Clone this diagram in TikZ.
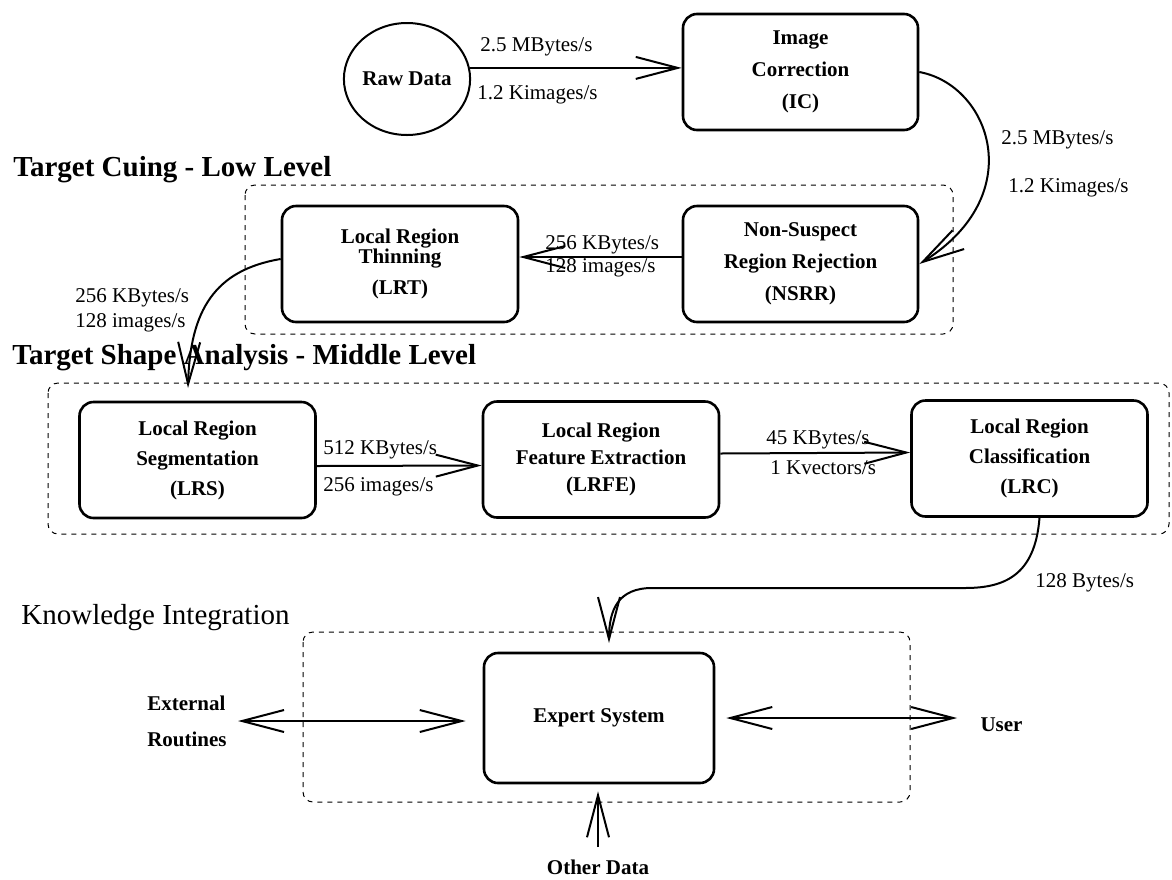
\documentclass[tikz,border=0pt]{standalone}
\usepackage{fontspec}
\setmainfont{Liberation Serif}
\usepackage{tikz}
\usetikzlibrary{arrows.meta, positioning, calc, shapes.geometric}

\begin{document}
\begin{tikzpicture}[x=0.5pt, y=-0.5pt,
  proc/.style={draw, line width=1.3pt, rounded corners=7pt, minimum width=118pt, minimum height=58pt,
    inner sep=0pt, align=center, font=\bfseries\fontsize{10.5}{15.5}\selectfont},
  group/.style={draw, line width=0.5pt, dash pattern=on 2.5pt off 2.5pt, rounded corners=5pt},
  flow/.style={line width=1pt, -{Straight Barb[length=21pt, width=11pt, line width=1pt]}},
  dflow/.style={line width=1pt, {Straight Barb[length=21pt, width=11pt, line width=1pt]}-{Straight Barb[length=21pt, width=11pt, line width=1pt]}},
  rate/.style={font=\fontsize{10.5}{12}\selectfont, inner sep=0pt, anchor=west},
  term/.style={font=\bfseries\fontsize{10.5}{18}\selectfont, inner sep=0pt},
  heading/.style={font=\bfseries\fontsize{14.5}{16}\selectfont, inner sep=0pt, anchor=west}]

  \useasboundingbox (0,0) rectangle (1172,879);

  % Input stage
  \node[draw, ellipse, line width=1pt, minimum width=63pt, minimum height=56pt, inner sep=0pt,
    font=\bfseries\fontsize{10.5}{12}\selectfont] (raw) at (407,79) {Raw Data};
  \node[proc, minimum width=117.5pt, font=\bfseries\fontsize{10.5}{16}\selectfont] (ic) at (800.5,72) {Image\\Correction\\(IC)};

  \draw[flow] (raw.10) -- (ic.west |- raw.10);
  \node[rate] (rawrate) at (480,47) {2.5 MBytes/s};
  \node[rate] (rawimg) at (477,95) {1.2 Kimages/s};

  % Target cuing - low level
  \node[heading] (cuing) at (13,170) {Target Cuing - Low Level};
  \draw[group] (245,185) rectangle (953,334);

  \node[proc, font=\bfseries\fontsize{10.5}{10}\selectfont] (lrt) at (400,264) {Local Region\\Thinning\\[5.5pt](LRT)};
  \node[proc, minimum width=117.5pt, font=\bfseries\fontsize{10.5}{16}\selectfont] (nsrr) at (800.5,264) {Non-Suspect\\Region Rejection\\(NSRR)};

  \draw[flow] (ic.east) .. controls (990,85) and (1030,195) .. (nsrr.east);
  \node[rate] (icrate) at (1001,140) {2.5 MBytes/s};
  \node[rate] (icimg) at (1008,188) {1.2 Kimages/s};

  \draw[flow] ([yshift=3.5pt]nsrr.west) -- ([yshift=3.5pt]lrt.east);
  \node[rate] (nsrrrate) at (545,245) {256 KBytes/s};
  \node[rate] (nsrrimg) at (545,268) {128 images/s};

  \coordinate (lrsin) at (188,388);
  \draw[flow] ([yshift=2.5pt]lrt.west) .. controls (215,270) and (190,310) .. (lrsin);
  \node[rate] (lrtrate) at (75,298) {256 KBytes/s};
  \node[rate] (lrtimg) at (75,323) {128 images/s};

  % Target shape analysis - middle level
  \node[heading] (shape) at (12,358) {Target Shape Analysis - Middle Level};
  \draw[group] (48,383) rectangle (1169,534);

  \node[proc, font=\bfseries\fontsize{10.5}{15}\selectfont] (lrs) at (197.5,460) {Local Region\\Segmentation\\(LRS)};
  \node[proc, font=\bfseries\fontsize{10.5}{13.5}\selectfont] (lrfe) at (601,459.5) {Local Region\\Feature Extraction\\(LRFE)};
  \node[proc, font=\bfseries\fontsize{10.5}{15}\selectfont] (lrc) at (1029.5,458.5) {Local Region\\Classification\\(LRC)};

  \draw[flow] ([yshift=-3pt]lrs.east) -- ([yshift=-3pt]lrfe.west);
  \node[rate] (lrsrate) at (323,450) {512 KBytes/s};
  \node[rate] (lrsimg) at (323,487) {256 images/s};

  \draw[flow] ([yshift=3pt]lrfe.east) -- ([yshift=3pt]lrc.west);
  \node[rate] (lrferate) at (766,440) {45 KBytes/s};
  \node[rate] (lrfevec) at (770,468) {1 Kvectors/s};

  % Knowledge integration
  \node[heading, font=\fontsize{14.5}{16}\selectfont] (know) at (21,618) {Knowledge Integration};
  \draw[group] (303,632) rectangle (910,802);

  \node[proc, minimum width=115pt, minimum height=65pt] (expert) at (599,718) {Expert System};

  \coordinate (esin) at (609,643);
  \draw[flow] ([xshift=5pt]lrc.south) .. controls (1035,575) and (1005,588) .. (965,588)
    -- (652,588) .. controls (618,588) and (609,610) .. (esin);
  \node[rate] (lrcrate) at (1035,583) {128 Bytes/s};

  \node[term, align=left] (ext) at (187,721) {External\\Routines};
  \node[term] (user) at (1001.5,725) {User};
  \node[term] (other) at (598,867) {Other Data};

  \draw[dflow, shorten <=5.5pt, shorten >=8.5pt] (ext.east) -- (ext.east -| expert.west);
  \draw[dflow, shorten <=5.5pt, shorten >=11.5pt] (expert.east) -- (expert.east -| user.west);
  \draw[flow, shorten <=6pt, shorten >=3.5pt] (other.north) -- (other.north |- expert.south);
\end{tikzpicture}
\end{document}
